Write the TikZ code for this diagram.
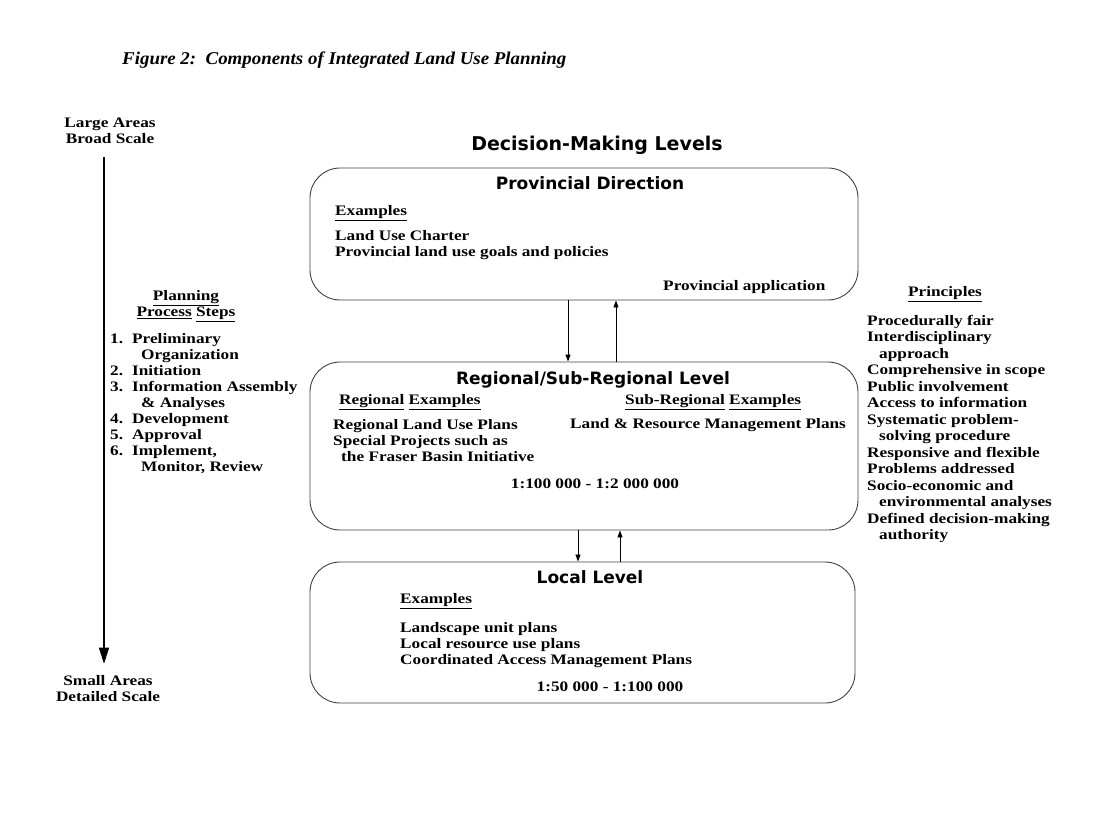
\documentclass[tikz,border=0pt]{standalone}
\usepackage{fontspec}
\setmainfont{Liberation Serif}[FakeStretch=1.19]
\newfontfamily\headfont{DejaVu Sans}
\newfontfamily\titlefont{Liberation Serif}[FakeStretch=1.05]
\usetikzlibrary{arrows.meta}

\tikzset{
  levelbox/.style={draw=black!75, line width=0.9pt, rounded corners=30pt, inner sep=0pt},
  levelhead/.style={font=\headfont\bfseries\fontsize{17}{20}\selectfont, inner sep=0pt},
  txt/.style={font=\bfseries\fontsize{14.5}{16}\selectfont, align=left, inner sep=0pt, anchor=west},
  linkarrow/.style={-{Triangle[length=7pt,width=5pt]}, line width=0.8pt},
}

\begin{document}
\begin{tikzpicture}[x=1pt,y=-1pt]
	\useasboundingbox (0,0) rectangle (1100,818);
	% title
	\node[txt, font=\titlefont\bfseries\itshape\fontsize{18}{20}\selectfont] (title) at (122,60) {Figure 2:\ \ Components of Integrated Land Use Planning};
	% scale arrow on the left
	\node[txt, anchor=center, align=center] (large) at (110,131) {Large Areas\\Broad Scale};
	\node[txt, anchor=center, align=center] (small) at (108,689) {Small Areas\\Detailed Scale};
	\coordinate (axis) at (104,0);
	\draw[-{Triangle[length=16pt,width=10pt]}, line width=1.6pt, shorten <=13pt, shorten >=12pt] (large.south -| axis) -- (small.north -| axis);
	% planning steps
	\node[txt, anchor=center, align=center] (stepshead) at (186,306) {\underline{Planning}\\\underline{Process} \underline{Steps}};
	\node[txt, anchor=north west] (steps) at (110,332) {%
		\begin{tabular}{@{}l@{\hspace{9pt}}l@{}}
			1. & Preliminary\\
			   & \hspace*{9pt}Organization\\
			2. & Initiation\\
			3. & Information Assembly\\
			   & \hspace*{9pt}\& Analyses\\
			4. & Development\\
			5. & Approval\\
			6. & Implement,\\
			   & \hspace*{9pt}Monitor, Review
		\end{tabular}};
	% levels
	\node[levelhead, font=\headfont\bfseries\fontsize{19}{22}\selectfont] (levelshead) at (597,145) {Decision-Making Levels};
	\node[levelbox, minimum width=548pt, minimum height=132pt] (prov) at (584,234) {};
	\node[levelbox, minimum width=548pt, minimum height=168pt] (reg) at (584,446) {};
	\node[levelbox, minimum width=545pt, minimum height=141pt] (local) at (582.5,632.5) {};
	% provincial
	\node[levelhead] (provhead) at (590,183) {Provincial Direction};
	\node[txt] (provex) at (335,213) {\underline{Examples}};
	\node[txt] (provlist) at (335,245) {Land Use Charter\\Provincial land use goals and policies};
	\node[txt] (provapp) at (663,287) {Provincial application};
	% regional
	\node[levelhead] (reghead) at (593,380) {Regional/Sub-Regional Level};
	\node[txt] (regex) at (339,402) {\underline{Regional} \underline{Examples}};
	\node[txt] (subex) at (625,402) {\underline{Sub-Regional} \underline{Examples}};
	\node[txt] (reglist) at (333,441) {Regional Land Use Plans\\Special Projects such as\\\hspace*{8pt}the Fraser Basin Initiative};
	\node[txt] (sublist) at (570,425) {Land \& Resource Management Plans};
	\node[txt, anchor=center] (regscale) at (595,484) {1:100 000 - 1:2 000 000};
	% local
	\node[levelhead] (localhead) at (590,577) {Local Level};
	\node[txt] (localex) at (400,601) {\underline{Examples}};
	\node[txt] (locallist) at (400,645) {Landscape unit plans\\Local resource use plans\\Coordinated Access Management Plans};
	\node[txt, anchor=center] (localscale) at (610,687) {1:50 000 - 1:100 000};
	% arrows between levels
	\coordinate (d1) at (568,0);
	\coordinate (u1) at (616,0);
	\coordinate (d2) at (578,0);
	\coordinate (u2) at (620,0);
	\draw[linkarrow] (prov.south -| d1) -- (reg.north -| d1);
	\draw[linkarrow] (reg.north -| u1) -- (prov.south -| u1);
	\draw[linkarrow] (reg.south -| d2) -- (local.north -| d2);
	\draw[linkarrow] (local.north -| u2) -- (reg.south -| u2);
	% principles
	\node[txt, anchor=center] (princhead) at (945,294) {\underline{Principles}};
	\node[txt, anchor=north west, font=\bfseries\fontsize{14.5}{16.5}\selectfont] (princ) at (867,315) {%
		Procedurally fair\\
		Interdisciplinary\\
		\hspace*{12pt}approach\\
		Comprehensive in scope\\
		Public involvement\\
		Access to information\\
		Systematic problem-\\
		\hspace*{12pt}solving procedure\\
		Responsive and flexible\\
		Problems addressed\\
		Socio-economic and\\
		\hspace*{12pt}environmental analyses\\
		Defined decision-making\\
		\hspace*{12pt}authority};
\end{tikzpicture}
\end{document}
